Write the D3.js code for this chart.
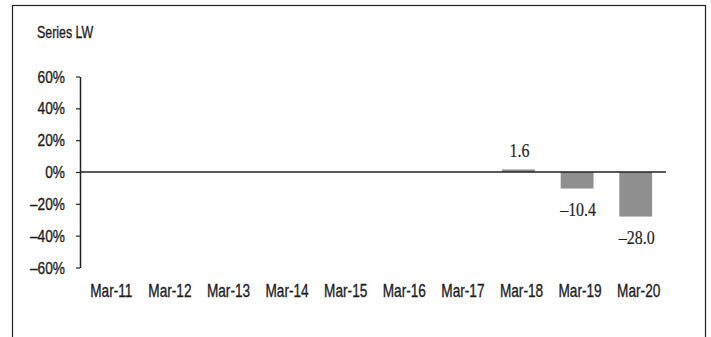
<!DOCTYPE html>
<html>
<head>
<meta charset="utf-8">
<script src="https://cdn.jsdelivr.net/npm/d3@7"></script>
<style>
  body { margin: 0; background: #fff; }
  svg text { font-family: "Liberation Sans", Arial, sans-serif; fill: #1e1e1e; stroke: #1e1e1e; stroke-width: 0.35px; }
  svg text.num { font-family: "Liberation Serif", "Times New Roman", serif; }
</style>
</head>
<body>
<svg id="chart" width="711" height="337"></svg>
<script>
const categories = ['Mar-11', 'Mar-12', 'Mar-13', 'Mar-14', 'Mar-15', 'Mar-16', 'Mar-17', 'Mar-18', 'Mar-19', 'Mar-20'];
const values = [null, null, null, null, null, null, null, 1.6, -10.4, -28.0];
const yTicks = [-60, -40, -20, 0, 20, 40, 60];
const title = 'Series LW';

const svg = d3.select('#chart');
const fmtPct = d => (d < 0 ? '\u2013' + Math.abs(d) : d) + '%';
const fmtVal = d => (d < 0 ? '\u2013' + Math.abs(d).toFixed(1) : d.toFixed(1));

// the original face is a tall condensed one, so squeeze a normal face sideways
function label(g, x, y, str, anchor, size, squeeze) {
  return g.append('text')
    .attr('transform', `translate(${x},${y}) scale(${squeeze},1)`)
    .attr('text-anchor', anchor)
    .attr('font-size', size)
    .text(str);
}

// frame (bottom edge runs off the picture)
svg.append('rect')
  .attr('x', 12.5).attr('y', 5.5)
  .attr('width', 693).attr('height', 340)
  .attr('fill', 'none').attr('stroke', '#222').attr('stroke-width', 1.2);

label(svg, 37, 38, title, 'start', 16.5, 0.75);

const x = d3.scaleBand().domain(categories).range([79, 665]).paddingInner(0.44).paddingOuter(0.22);
const y = d3.scaleLinear().domain([-60, 60]).range([267.5, 76.5]);

const yAxis = svg.append('g')
  .attr('transform', 'translate(80,0)')
  .call(d3.axisLeft(y).tickValues(yTicks).tickSize(4).tickSizeOuter(0).tickFormat(''));
yAxis.select('.domain').attr('stroke', '#222').attr('stroke-width', 1.5);
yAxis.selectAll('.tick line').attr('stroke', '#222').attr('stroke-width', 1.2);

const yLabels = svg.append('g');
yTicks.forEach(t => label(yLabels, 65, y(t) + 6, fmtPct(t), 'end', 16.5, 0.83));

const data = categories.map((c, i) => ({ c, v: values[i] })).filter(d => d.v !== null);

svg.append('g').selectAll('rect')
  .data(data)
  .enter()
  .append('rect')
  .attr('x', d => x(d.c))
  .attr('width', x.bandwidth())
  .attr('y', d => y(Math.max(0, d.v)))
  .attr('height', d => Math.abs(y(d.v) - y(0)))
  .attr('fill', '#8f8f8f');

// zero line
svg.append('line')
  .attr('x1', 80).attr('x2', 666)
  .attr('y1', y(0)).attr('y2', y(0))
  .attr('stroke', '#222').attr('stroke-width', 1.5);

const valLabels = svg.append('g');
data.forEach(d => {
  const ty = d.v >= 0 ? y(d.v) - 12 : y(d.v) + 27;
  label(valLabels, x(d.c) + x.bandwidth() / 2 + 1, ty, fmtVal(d.v), 'middle', 19, 0.84)
    .attr('class', 'num').style('stroke-width', '0.2px');
});

// category labels
const xLabels = svg.append('g');
categories.forEach(c => label(xLabels, x(c) + x.bandwidth() / 2 + 3, 296.5, c, 'middle', 17.5, 0.78));
</script>
</body>
</html>
